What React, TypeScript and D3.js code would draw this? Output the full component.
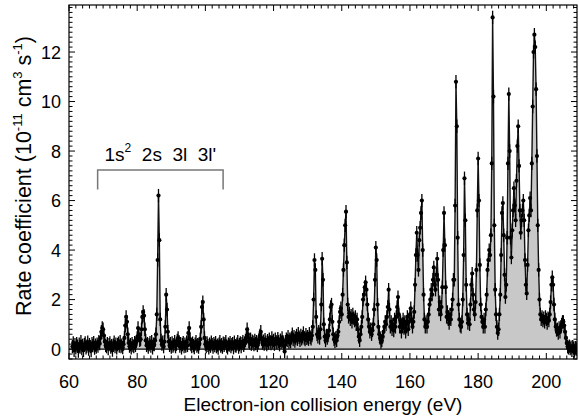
import React from "react";
import * as d3 from "d3";

// Measured spectrum: one row per eV, starting at 61 eV, 4 samples per row (0.25 eV step)
const E_START = 61;
const E_STEP = 0.25;
const RATE_ROWS: number[][] = [
  [0.10, 0.25, -0.05, 0.18], // 61
  [0.05, 0.22, 0.12, -0.08],
  [0.20, 0.08, 0.30, 0.02],
  [0.15, -0.05, 0.18, 0.25],
  [0.05, 0.12, 0.28, 0.00], // 65
  [0.18, 0.10, -0.06, 0.22],
  [0.14, 0.26, 0.04, 0.16],
  [0.08, 0.20, 0.12, 0.30],
  [0.22, 0.45, 0.70, 0.85],
  [0.80, 0.55, 0.30, 0.15], // 70
  [0.10, 0.22, 0.02, 0.18],
  [0.25, 0.08, 0.14, -0.04],
  [0.16, 0.28, 0.10, 0.20],
  [0.05, 0.18, 0.24, 0.12],
  [0.30, 0.10, 0.16, 0.06], // 75
  [0.20, 0.45, 0.95, 1.30],
  [1.10, 0.60, 0.25, 0.12],
  [0.18, 0.05, 0.22, 0.14],
  [0.10, 0.26, 0.15, 0.30],
  [0.45, 0.85, 0.60, 0.35], // 80
  [0.40, 0.80, 1.30, 1.50],
  [1.35, 0.80, 0.35, 0.15],
  [0.22, 0.08, 0.18, 0.26],
  [0.12, 0.30, 0.05, 0.20],
  [0.18, 0.35, 0.60, 1.40], // 85
  [3.60, 6.20, 4.40, 1.20],
  [0.35, 0.20, 0.28, 0.10],
  [0.30, 0.90, 2.20, 1.60],
  [0.70, 0.30, 0.15, 0.22],
  [0.08, 0.25, 0.12, 0.18], // 90
  [0.30, 0.10, 0.20, 0.35],
  [0.45, 0.30, 0.12, 0.22],
  [0.05, 0.18, 0.26, 0.10],
  [0.20, 0.12, 0.28, 0.15],
  [0.65, 0.85, 0.40, 0.18], // 95
  [0.10, 0.24, 0.14, 0.06],
  [0.20, 0.30, 0.12, 0.18],
  [0.08, 0.22, 0.40, 0.90],
  [1.70, 1.90, 1.20, 0.45],
  [0.20, 0.10, 0.25, 0.15], // 100
  [0.05, 0.20, 0.12, 0.28],
  [0.18, 0.08, 0.22, 0.14],
  [0.26, 0.10, 0.16, 0.04],
  [0.20, 0.30, 0.12, 0.18],
  [0.08, 0.24, 0.15, 0.22], // 105
  [0.30, 0.12, 0.05, 0.20],
  [0.16, 0.26, 0.10, 0.18],
  [0.22, 0.06, 0.28, 0.14],
  [0.12, 0.20, 0.30, 0.08],
  [0.18, 0.25, 0.10, 0.22], // 110
  [0.30, 0.15, 0.24, 0.35],
  [0.45, 0.80, 0.60, 0.30],
  [0.25, 0.40, 0.20, 0.32],
  [0.28, 0.18, 0.35, 0.22],
  [0.30, 0.15, 0.26, 0.40], // 115
  [0.55, 0.70, 0.40, 0.25],
  [0.32, 0.20, 0.38, 0.28],
  [0.18, 0.34, 0.25, 0.40],
  [0.30, 0.22, 0.45, 0.28],
  [0.35, 0.20, 0.40, 0.30], // 120
  [0.25, 0.42, 0.30, 0.18],
  [0.36, 0.28, 0.45, 0.30],
  [0.15, -0.10, 0.30, 0.40],
  [0.35, 0.50, 0.28, 0.40],
  [0.30, 0.45, 0.60, 0.38], // 125
  [0.50, 0.32, 0.45, 0.55],
  [0.40, 0.62, 0.48, 0.35],
  [0.55, 0.42, 0.50, 0.65],
  [0.45, 0.38, 0.58, 0.44],
  [0.50, 0.40, 0.62, 0.48], // 130
  [0.42, 0.55, 0.90, 2.00],
  [3.60, 3.20, 1.30, 0.60],
  [0.50, 0.70, 0.45, 0.80],
  [1.80, 3.65, 2.80, 1.00],
  [0.50, 0.35, 0.55, 0.45], // 135
  [0.55, 0.75, 1.20, 1.70],
  [1.80, 1.10, 0.60, 0.40],
  [0.30, 0.45, 0.35, 0.55],
  [0.70, 1.10, 1.50, 1.65],
  [1.40, 2.20, 3.20, 4.20], // 140
  [5.00, 5.55, 3.50, 1.80],
  [1.30, 1.45, 1.20, 1.35],
  [1.10, 1.40, 1.25, 1.15],
  [1.30, 1.00, 1.20, 0.80],
  [0.50, 0.35, 0.60, 0.90], // 145
  [1.30, 2.00, 2.20, 2.50],
  [2.70, 2.40, 1.80, 1.20],
  [0.90, 0.70, 0.80, 0.60],
  [0.75, 1.00, 1.60, 2.80],
  [4.10, 3.60, 1.80, 0.90], // 150
  [0.60, 0.45, 0.28, 0.35],
  [0.50, 0.70, 0.90, 1.10],
  [1.00, 1.30, 1.70, 2.40],
  [1.60, 0.90, 1.10, 0.80],
  [1.00, 0.75, 1.20, 0.90], // 155
  [1.30, 1.70, 2.10, 1.40],
  [0.90, 1.10, 0.70, 1.00],
  [1.20, 0.85, 1.10, 0.70],
  [1.00, 1.30, 0.80, 1.10],
  [1.40, 1.65, 1.20, 0.90], // 160
  [1.10, 1.50, 2.60, 3.80],
  [4.70, 3.80, 3.20, 4.40],
  [4.90, 5.50, 6.00, 4.00],
  [2.20, 1.20, 0.90, 1.10],
  [0.90, 1.10, 1.40, 1.80], // 165
  [2.00, 2.40, 2.20, 2.80],
  [3.30, 2.60, 2.40, 3.00],
  [3.65, 2.80, 1.60, 1.90],
  [1.40, 1.70, 2.50, 4.00],
  [5.50, 4.20, 2.50, 1.30], // 170
  [1.50, 1.20, 1.05, 1.40],
  [1.20, 1.60, 2.00, 2.80],
  [2.80, 5.80, 10.80, 9.00],
  [4.50, 1.80, 1.20, 0.95],
  [0.90, 1.10, 2.00, 3.80], // 175
  [6.90, 5.20, 2.60, 1.40],
  [1.05, 1.20, 1.00, 1.80],
  [2.60, 3.05, 2.20, 1.60],
  [1.40, 1.90, 3.20, 5.60],
  [7.70, 6.00, 3.40, 1.80], // 180
  [1.30, 1.10, 0.90, 1.20],
  [0.90, 1.60, 2.20, 3.20],
  [3.60, 4.00, 3.80, 4.60],
  [7.50, 13.40, 10.20, 5.00],
  [2.40, 1.40, 0.90, 0.65], // 185
  [0.80, 1.40, 2.20, 3.80],
  [5.50, 5.90, 4.60, 3.00],
  [2.10, 2.60, 4.50, 7.50],
  [10.30, 8.00, 4.50, 3.70],
  [4.80, 5.60, 6.50, 5.80], // 190
  [5.20, 6.80, 8.20, 9.00],
  [7.40, 5.60, 4.70, 5.20],
  [5.60, 6.00, 5.20, 3.60],
  [2.60, 2.25, 3.40, 4.80],
  [5.40, 6.10, 5.60, 7.50], // 195
  [9.80, 12.00, 12.70, 12.20],
  [10.50, 7.80, 5.00, 3.20],
  [2.00, 1.40, 1.20, 1.30],
  [1.15, 1.25, 1.10, 1.30],
  [1.20, 1.05, 1.25, 1.15], // 200
  [1.40, 1.90, 2.60, 2.90],
  [2.60, 1.80, 1.20, 0.90],
  [0.77, 0.80, 0.65, 0.85],
  [0.70, 0.90, 1.00, 1.10],
  [1.10, 0.95, 0.70, 0.45], // 205
  [0.25, 0.10, 0.05, 0.12],
  [0.02, 0.08, -0.05, 0.10],
  [0.04, -0.08, 0.06, 0.00],
  [0.05], // 209
];
const ERR_HALF = 0.27; // typical error-bar half width (10^-11 cm^3 s^-1)

const X_DOMAIN: [number, number] = [60, 209];
const Y_DOMAIN: [number, number] = [-0.4, 13.9];
const X_MAJOR = [60, 80, 100, 120, 140, 160, 180, 200];
const Y_MAJOR = [0, 2, 4, 6, 8, 10, 12];

const BRACKET = { from: 68.4, to: 105.2, top: 7.23, bottom: 6.45 };

const W = 579;
const H = 420;
const M = { left: 69, right: 577, top: 5, bottom: 359 };
const FONT = "'Liberation Sans', Arial, Helvetica, sans-serif";

export default function App() {
  const rates = RATE_ROWS.flat();
  const data = rates.map((r, i) => ({ e: E_START + i * E_STEP, r }));

  const x = d3.scaleLinear().domain(X_DOMAIN).range([M.left, M.right]);
  const y = d3.scaleLinear().domain(Y_DOMAIN).range([M.bottom, M.top]);

  const area = d3
    .area<{ e: number; r: number }>()
    .x((d) => x(d.e))
    .y0(y(0))
    .y1((d) => y(d.r));
  const line = d3
    .line<{ e: number; r: number }>()
    .x((d) => x(d.e))
    .y((d) => y(d.r));

  const xMinor = d3.range(60, 209, 2).filter((v) => v % 20 !== 0);
  const yMinor = d3.range(-4, 139, 2).map((v) => v / 10).filter((v) => Math.abs(v % 2) > 1e-6);

  const maj = 6;
  const min = 3.5;

  return (
    <svg
      width={W}
      height={H}
      style={{ position: "absolute", left: 0, top: 0, background: "#fff" }}
      fontFamily={FONT}
    >
      <rect x={0} y={0} width={W} height={H} fill="#fff" />
      <defs>
        <clipPath id="plot">
          <rect x={M.left} y={M.top} width={M.right - M.left} height={M.bottom - M.top} />
        </clipPath>
      </defs>
      <g clipPath="url(#plot)">
        <path d={area(data) ?? ""} fill="#c8c8c8" />
        <line x1={M.left} x2={M.right} y1={y(0)} y2={y(0)} stroke="#000" strokeWidth={1.4} />
        <path d={line(data) ?? ""} fill="none" stroke="#111" strokeWidth={1.4} />
        {data.map((d, i) => (
          <line
            key={"e" + i}
            x1={x(d.e)}
            x2={x(d.e)}
            y1={y(d.r - ERR_HALF)}
            y2={y(d.r + ERR_HALF)}
            stroke="#000"
            strokeWidth={1.3}
          />
        ))}
        {data.map((d, i) => (
          <circle key={"c" + i} cx={x(d.e)} cy={y(d.r)} r={2.1} fill="#000" />
        ))}
      </g>

      {/* frame */}
      <rect
        x={M.left}
        y={M.top}
        width={M.right - M.left}
        height={M.bottom - M.top}
        fill="none"
        stroke="#000"
        strokeWidth={1.2}
      />
      {/* x ticks bottom & top */}
      {X_MAJOR.map((v) => (
        <g key={"xm" + v}>
          <line x1={x(v)} x2={x(v)} y1={M.bottom} y2={M.bottom - maj} stroke="#000" />
          <line x1={x(v)} x2={x(v)} y1={M.top} y2={M.top + maj} stroke="#000" />
          <text x={x(v)} y={M.bottom + 29} fontSize={18} textAnchor="middle" fill="#000">
            {v}
          </text>
        </g>
      ))}
      {xMinor.map((v) => (
        <g key={"xn" + v}>
          <line x1={x(v)} x2={x(v)} y1={M.bottom} y2={M.bottom - min} stroke="#000" />
          <line x1={x(v)} x2={x(v)} y1={M.top} y2={M.top + min} stroke="#000" />
        </g>
      ))}
      {/* y ticks left & right */}
      {Y_MAJOR.map((v) => (
        <g key={"ym" + v}>
          <line x1={M.left} x2={M.left + maj} y1={y(v)} y2={y(v)} stroke="#000" />
          <line x1={M.right} x2={M.right - maj} y1={y(v)} y2={y(v)} stroke="#000" />
          <text x={M.left - 8} y={y(v)} dy="0.36em" fontSize={18} textAnchor="end" fill="#000">
            {v}
          </text>
        </g>
      ))}
      {yMinor.map((v) => (
        <g key={"yn" + v}>
          <line x1={M.left} x2={M.left + min} y1={y(v)} y2={y(v)} stroke="#000" />
          <line x1={M.right} x2={M.right - min} y1={y(v)} y2={y(v)} stroke="#000" />
        </g>
      ))}

      {/* bracket annotation */}
      <path
        d={`M${x(BRACKET.from)},${y(BRACKET.bottom)}V${y(BRACKET.top)}H${x(BRACKET.to)}V${y(BRACKET.bottom)}`}
        fill="none"
        stroke="#777"
        strokeWidth={1.5}
      />
      <text
        x={(x(BRACKET.from) + x(BRACKET.to)) / 2}
        y={y(BRACKET.top) - 9}
        fontSize={19}
        textAnchor="middle"
        fill="#000"
        style={{ whiteSpace: "pre" }}
      >
        1s
        <tspan fontSize={12} dy={-9}>2</tspan>
        <tspan dy={9}>{"  2s  3l  3l'"}</tspan>
      </text>

      {/* axis titles */}
      <text x={(M.left + M.right) / 2} y={411} fontSize={19} textAnchor="middle" fill="#000">
        Electron-ion collision energy (eV)
      </text>
      <text
        transform={`translate(31,176) rotate(-90)`}
        fontSize={21.5}
        textAnchor="middle"
        fill="#000"
        style={{ whiteSpace: "pre" }}
      >
        Rate coefficient (10
        <tspan fontSize={13} dy={-9}>-11</tspan>
        <tspan dy={9}>{" cm"}</tspan>
        <tspan fontSize={13} dy={-9}>3</tspan>
        <tspan dy={9}>{" s"}</tspan>
        <tspan fontSize={13} dy={-9}>-1</tspan>
        <tspan dy={9}>)</tspan>
      </text>
    </svg>
  );
}
